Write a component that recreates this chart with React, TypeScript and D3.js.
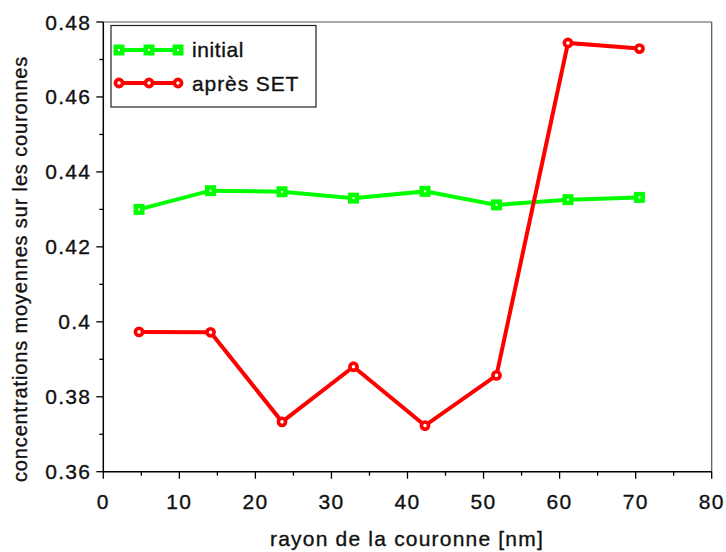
import React from "react";
import * as d3 from "d3";

const xValues = [4.7, 14.1, 23.5, 32.9, 42.3, 51.7, 61.1, 70.5];
const initialValues = [0.43, 0.435, 0.4347, 0.433, 0.4348, 0.4312, 0.4326, 0.4332];
const apresValues = [0.3973, 0.3972, 0.3733, 0.388, 0.3723, 0.3857, 0.4744, 0.4729];
const xTicks = [0, 10, 20, 30, 40, 50, 60, 70, 80];
const yTicks = [0.36, 0.38, 0.4, 0.42, 0.44, 0.46, 0.48];
const seriesNames = ["initial", "après SET"];
const xLabel = "rayon de la couronne [nm]";
const yLabel = "concentrations moyennes sur les couronnes";

const W = 726, H = 552;
const left = 103.3, right = 711.7, top = 22, bottom = 471.7;
const font = "Arial, 'Liberation Sans', sans-serif";
const txt = { fontFamily: font, fill: "#111", stroke: "#111", strokeWidth: 0.35 };

export default function App() {
  const x = d3.scaleLinear().domain([0, 80]).range([left, right]);
  const y = d3.scaleLinear().domain([0.36, 0.48]).range([bottom, top]);
  const line = d3.line<number>().x((_, i) => x(xValues[i])).y((d) => y(d));
  const xMinor = d3.range(5, 80, 10);
  const yMinor = d3.range(0.37, 0.48, 0.02);
  const green = "#00ff00";
  const red = "#ff0000";
  const fmt = (v: number) => String(+v.toFixed(2));

  const square = (cx: number, cy: number, k: string) => (
    <g key={k}>
      <rect x={cx - 5.5} y={cy - 5.5} width={11} height={11} fill={green} />
      <rect x={cx - 1} y={cy - 1} width={2} height={2} fill="#fff" />
    </g>
  );
  const circle = (cx: number, cy: number, k: string) => (
    <g key={k}>
      <circle cx={cx} cy={cy} r={3.6} fill="#fff" stroke={red} strokeWidth={3.6} />
    </g>
  );

  return (
    <svg width={W} height={H} style={{ position: "absolute", left: 0, top: 0, background: "#fff" }}>
      {/* frame */}
      <line x1={left} x2={right} y1={top} y2={top} stroke="#555" strokeWidth={1.2} />
      <line x1={right} x2={right} y1={top} y2={bottom} stroke="#555" strokeWidth={1.2} />
      <line x1={left} x2={left} y1={top} y2={bottom + 0.5} stroke="#000" strokeWidth={1.5} />
      <line x1={left} x2={right} y1={bottom} y2={bottom} stroke="#000" strokeWidth={1.5} />
      {xTicks.map((t) => (
        <g key={"xt" + t}>
          <line x1={x(t)} x2={x(t)} y1={bottom} y2={bottom + 7} stroke="#000" strokeWidth={1.3} />
          <text x={x(t)} y={bottom + 37} textAnchor="middle" fontSize={21} letterSpacing={1.3} {...txt}>{t}</text>
        </g>
      ))}
      {xMinor.map((t) => (
        <line key={"xm" + t} x1={x(t)} x2={x(t)} y1={bottom} y2={bottom + 4} stroke="#000" strokeWidth={1.3} />
      ))}
      {yTicks.map((t) => (
        <g key={"yt" + t}>
          <line x1={left - 7} x2={left} y1={y(t)} y2={y(t)} stroke="#000" strokeWidth={1.3} />
          <text x={left - 12} y={y(t) + 7.5} textAnchor="end" fontSize={21} letterSpacing={1.3} {...txt}>{fmt(t)}</text>
        </g>
      ))}
      {yMinor.map((t) => (
        <line key={"ym" + t} x1={left - 4} x2={left} y1={y(t)} y2={y(t)} stroke="#000" strokeWidth={1.3} />
      ))}
      <text x={270} y={545.5} textAnchor="start" fontSize={21} letterSpacing={1.2} {...txt}>{xLabel}</text>
      <text transform={`translate(27, 482) rotate(-90)`} textAnchor="start" fontSize={20} letterSpacing={0.85} {...txt}>{yLabel}</text>

      {/* series */}
      <path d={line(initialValues) || ""} fill="none" stroke={green} strokeWidth={4} />
      {initialValues.map((v, i) => square(x(xValues[i]), y(v), "g" + i))}
      <path d={line(apresValues) || ""} fill="none" stroke={red} strokeWidth={4} />
      {apresValues.map((v, i) => circle(x(xValues[i]), y(v), "r" + i))}

      {/* legend */}
      <rect x={111} y={25.5} width={205} height={81.5} fill="#fff" stroke="#222" strokeWidth={1.2} />
      <line x1={119} x2={178} y1={50} y2={50} stroke={green} strokeWidth={4} />
      {[119, 149, 178].map((cx, i) => square(cx, 50, "lg" + i))}
      <text x={192} y={57} fontSize={21} letterSpacing={0.6} {...txt}>{seriesNames[0]}</text>
      <line x1={119} x2={178} y1={83} y2={83} stroke={red} strokeWidth={4} />
      {[119, 149, 178].map((cx, i) => circle(cx, 83, "lr" + i))}
      <text x={192} y={90.5} fontSize={21} letterSpacing={0.9} {...txt}>{seriesNames[1]}</text>
    </svg>
  );
}
